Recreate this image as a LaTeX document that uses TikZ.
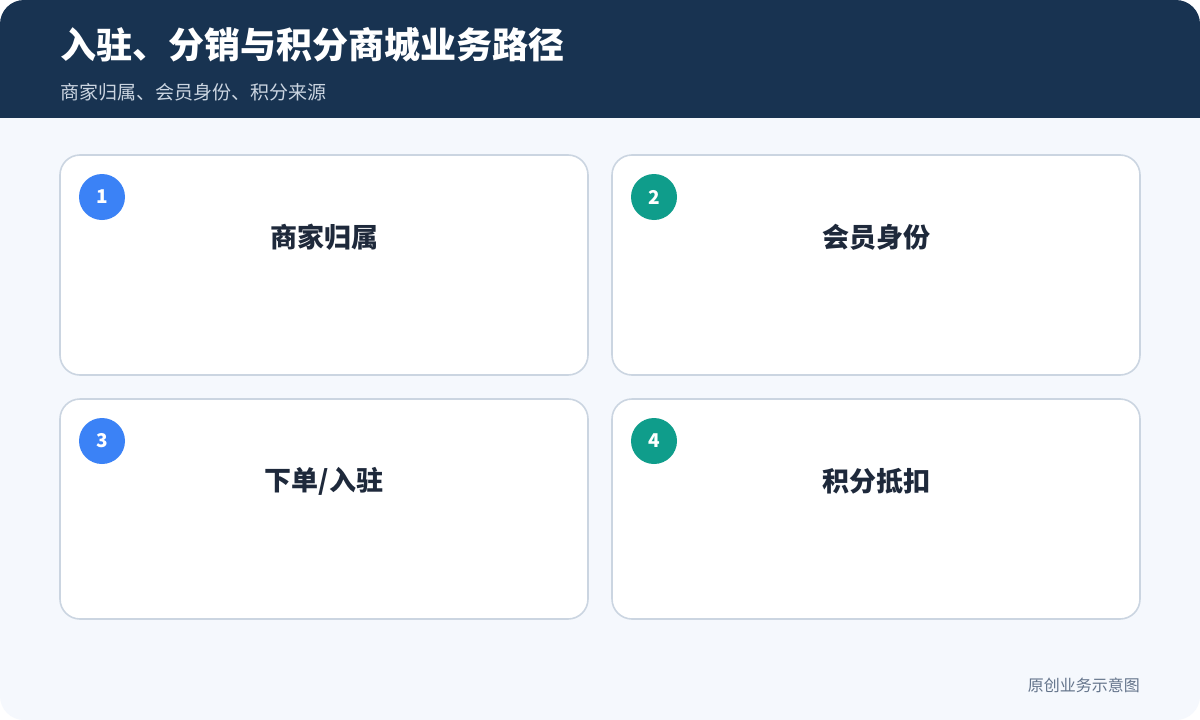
\documentclass[tikz,border=0pt]{standalone}
\usepackage{fontspec}
\setmainfont{Noto Sans}
\newfontfamily\cjk{Noto Sans CJK SC}
\definecolor{hdr}{HTML}{183351}
\definecolor{bg}{HTML}{F5F8FD}
\definecolor{cardline}{HTML}{CBD5E1}
\definecolor{blueb}{HTML}{3B82F6}
\definecolor{tealb}{HTML}{0F9D8B}
\definecolor{txt}{HTML}{1E293B}
\definecolor{subt}{HTML}{CBD5E1}
\definecolor{foot}{HTML}{64748B}
\begin{document}
\begin{tikzpicture}[x=1pt,y=-1pt,
  card/.style={draw=cardline,line width=1.6pt,fill=white,rounded corners=20pt},
  badge/.style={circle,minimum size=46pt,inner sep=0pt,text=white,font=\cjk\fontsize{19}{19}\selectfont\bfseries},
  cardlabel/.style={text=txt,font=\cjk\fontsize{27}{27}\selectfont\bfseries,inner sep=0pt}]
\useasboundingbox (0,0) rectangle (1200,720);
\fill[white] (0,0) rectangle (1200,720);
\begin{scope}
\clip[rounded corners=24pt] (0,0) rectangle (1200,720);
\fill[bg] (0,0) rectangle (1200,720);
\fill[hdr] (0,0) rectangle (1200,118);
\end{scope}
\node[anchor=west,inner sep=0pt,text=white,font=\cjk\fontsize{36}{36}\selectfont\bfseries] (title) at (60,45) {入驻、分销与积分商城业务路径};
\node[anchor=west,inner sep=0pt,text=subt,font=\cjk\fontsize{19}{19}\selectfont] (sub) at (60,92) {商家归属、会员身份、积分来源};
% cards
\path[card] (60,155) rectangle (588,375);
\path[card] (612,155) rectangle (1140,375);
\path[card] (60,399) rectangle (588,619);
\path[card] (612,399) rectangle (1140,619);
\node[badge,fill=blueb] (b1) at (102,197) {1};
\node[badge,fill=tealb] (b2) at (654,197) {2};
\node[badge,fill=blueb] (b3) at (102,441) {3};
\node[badge,fill=tealb] (b4) at (654,441) {4};
\node[cardlabel] (l1) at (324,237) {商家归属};
\node[cardlabel] (l2) at (876,237) {会员身份};
\node[cardlabel] (l3) at (324,481) {下单/入驻};
\node[cardlabel] (l4) at (876,481) {积分抵扣};
\node[anchor=east,inner sep=0pt,text=foot,font=\cjk\fontsize{16}{16}\selectfont] (ft) at (1140,685) {原创业务示意图};
\end{tikzpicture}
\end{document}
